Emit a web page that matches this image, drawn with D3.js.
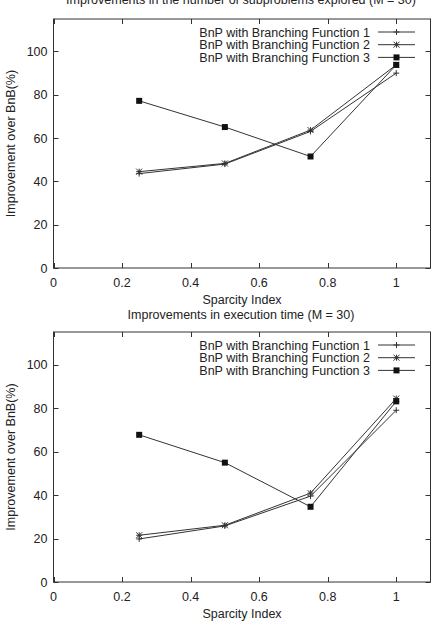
<!DOCTYPE html>
<html>
<head>
<meta charset="utf-8">
<script src="https://cdn.jsdelivr.net/npm/d3@7"></script>
<style>
  body { margin: 0; background: #fff; }
  text { font-family: "Liberation Sans", Arial, sans-serif; fill: #222; }
</style>
</head>
<body>
<div id="chart"></div>
<script>
// sparsity index values on the x axis
var sparcity = [0.25, 0.5, 0.75, 1.0];
var seriesNames = [
  "BnP with Branching Function 1",
  "BnP with Branching Function 2",
  "BnP with Branching Function 3"
];
// top panel: subproblems explored
var subprobF1 = [43.6, 48.0, 63.1, 90.0];
var subprobF2 = [44.5, 48.3, 63.7, 93.8];
var subprobF3 = [77.2, 65.1, 51.5, 93.8];
// bottom panel: execution time
var timeF1 = [19.8, 25.8, 39.5, 79.0];
var timeF2 = [21.5, 26.1, 40.9, 84.4];
var timeF3 = [67.7, 54.9, 34.6, 83.1];
var xTicks = [0, 0.2, 0.4, 0.6, 0.8, 1];
var yTicks = [0, 20, 40, 60, 80, 100];

var W = 433, H = 628;
var fs = "12.5px";
var svg = d3.select("#chart").append("svg")
  .attr("width", W).attr("height", H);

var panels = [
  {title: "Improvements in the number of subproblems explored (M = 30)",
   top: 19, bottom: 268, titleY: 4, xlabY: 304,
   series: [subprobF1, subprobF2, subprobF3]},
  {title: "Improvements in execution time (M = 30)",
   top: 332, bottom: 582, titleY: 319, xlabY: 618,
   series: [timeF1, timeF2, timeF3]}
];

var left = 53.5, right = 430.5;
var ink = "#333";

function marker(g, type, x, y) {
  var s = 3;
  if (type === 0) {
    g.append("path").attr("d", "M" + (x - s) + "," + y + "H" + (x + s) + "M" + x + "," + (y - s) + "V" + (y + s))
      .attr("stroke", ink).attr("stroke-width", 1).attr("fill", "none");
  } else if (type === 1) {
    g.append("path").attr("d", "M" + (x - s) + "," + y + "H" + (x + s) + "M" + x + "," + (y - s) + "V" + (y + s) +
      "M" + (x - s) + "," + (y - s) + "L" + (x + s) + "," + (y + s) + "M" + (x - s) + "," + (y + s) + "L" + (x + s) + "," + (y - s))
      .attr("stroke", ink).attr("stroke-width", 1).attr("fill", "none");
  } else {
    g.append("rect").attr("x", x - 3).attr("y", y - 3).attr("width", 6).attr("height", 6)
      .attr("fill", "#111");
  }
}

panels.forEach(function(p) {
  var x = d3.scaleLinear().domain([0, 1.1]).range([left, right]);
  var y = d3.scaleLinear().domain([0, 115]).range([p.bottom, p.top]);
  var g = svg.append("g");

  // ticks: inward, mirrored on all four sides
  xTicks.forEach(function(t) {
    var xx = Math.round(x(t)) + 0.5;
    g.append("line").attr("x1", xx).attr("x2", xx).attr("y1", p.bottom).attr("y2", p.bottom - 5)
      .attr("stroke", ink);
    g.append("line").attr("x1", xx).attr("x2", xx).attr("y1", p.top).attr("y2", p.top + 5)
      .attr("stroke", ink);
    g.append("text").attr("x", x(t)).attr("y", p.bottom + 18.5)
      .attr("text-anchor", "middle").attr("font-size", fs).text(t);
  });
  yTicks.forEach(function(t) {
    var yy = Math.round(y(t)) + 0.5;
    g.append("line").attr("x1", left).attr("x2", left + 5).attr("y1", yy).attr("y2", yy)
      .attr("stroke", ink);
    g.append("line").attr("x1", right).attr("x2", right - 5).attr("y1", yy).attr("y2", yy)
      .attr("stroke", ink);
    g.append("text").attr("x", left - 6).attr("y", y(t) + 4.5)
      .attr("text-anchor", "end").attr("font-size", fs).text(t);
  });

  g.append("rect").attr("x", left).attr("y", p.top)
    .attr("width", right - left).attr("height", p.bottom - p.top)
    .attr("fill", "none").attr("stroke", ink).attr("stroke-width", 1);

  g.append("text").attr("x", 241).attr("y", p.titleY)
    .attr("text-anchor", "middle").attr("font-size", fs).text(p.title);
  g.append("text").attr("x", 242).attr("y", p.xlabY)
    .attr("text-anchor", "middle").attr("font-size", fs).text("Sparcity Index");
  g.append("text")
    .attr("transform", "translate(14.5," + ((p.top + p.bottom) / 2) + ") rotate(-90)")
    .attr("text-anchor", "middle").attr("font-size", fs).text("Improvement over BnB(%)");

  var line = d3.line().x(function(d, i) { return x(sparcity[i]); }).y(function(d) { return y(d); });

  p.series.forEach(function(vals, k) {
    g.append("path").attr("d", line(vals))
      .attr("fill", "none").attr("stroke", ink).attr("stroke-width", 1);
    vals.forEach(function(v, i) {
      marker(g, k, x(sparcity[i]), y(v));
    });
    // legend entry
    var ly = p.top + 13 + k * 12.7;
    g.append("text").attr("x", 370).attr("y", ly + 4.5)
      .attr("text-anchor", "end").attr("font-size", fs).text(seriesNames[k]);
    g.append("line").attr("x1", 378).attr("x2", 415).attr("y1", ly).attr("y2", ly)
      .attr("stroke", ink).attr("stroke-width", 1);
    marker(g, k, 396.5, ly);
  });
});
</script>
</body>
</html>
